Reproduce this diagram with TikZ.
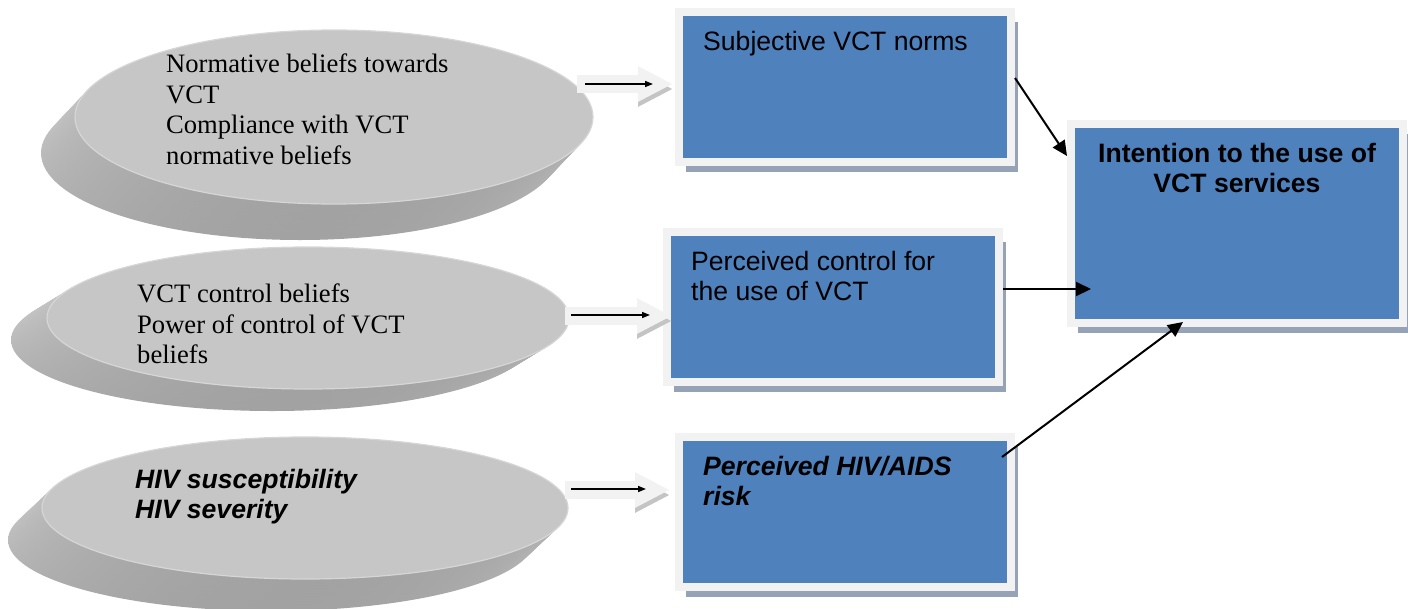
\documentclass[tikz,border=0pt]{standalone}
\usepackage{fontspec}
\setmainfont{Liberation Serif}
\setsansfont{Liberation Sans}
\usepackage{tikz}
\usetikzlibrary{arrows.meta,positioning,shapes.geometric,shadows,calc}

\definecolor{vctblue}{HTML}{4F81BD}
\definecolor{framegray}{HTML}{F2F2F2}
\definecolor{boxshade}{HTML}{96A3B6}
\definecolor{discface}{HTML}{C6C6C6}
\definecolor{discrim}{HTML}{D6D6D6}
\definecolor{sidelight}{HTML}{D4D4D4}
\definecolor{sidedark}{HTML}{A2A2A2}
\definecolor{arrowshade}{HTML}{C4C4C4}
\newcommand\vctfont{\fontsize{26.6}{30.5}\selectfont}

\begin{document}
\begin{tikzpicture}[x=1pt, y=-1pt,
  disc/.style={ellipse, fill=discface, draw=discrim, line width=1.2pt, inner sep=0pt},
  discside/.style={top color=sidelight, bottom color=sidedark},
  vbox/.style={rectangle, draw=framegray, line width=8pt, fill=vctblue, minimum width=332pt, minimum height=150pt, inner sep=0pt,
    drop shadow={shadow xshift=7pt, shadow yshift=-10pt, fill=boxshade, opacity=1}},
  beliefs/.style={font=\vctfont, align=left, inner sep=0pt, anchor=north west},
  labeltxt/.style={beliefs, font=\vctfont\sffamily},
  fat/.style={draw=framegray, line width=18pt, -{Triangle[length=35pt, width=33pt]},
    preaction={draw=arrowshade, transform canvas={yshift=-5pt}}},
  inarrow/.style={-{Triangle[length=8pt, width=6pt]}, line width=1.5pt},
  link/.style={-{Triangle[length=15pt, width=14pt]}, line width=2pt}
]
\useasboundingbox (0,0) rectangle (1408,608);

% belief discs, side first then face
\coordinate (c1) at (334,117);
\coordinate (c2) at (308,318);
\coordinate (c3) at (305,508);
\foreach \k in {20,19,...,1}
  \shade[discside] ($(c1)+\k/20*(-34,36)$) ellipse [x radius=259pt, y radius=87pt];
\node[disc, minimum width=518pt, minimum height=174pt] (d1) at (c1) {};
\foreach \k in {20,19,...,1}
  \shade[discside] ($(c2)+\k/20*(-36,22)$) ellipse [x radius=261pt, y radius=71pt];
\node[disc, minimum width=522pt, minimum height=142pt] (d2) at (c2) {};
\foreach \k in {20,19,...,1}
  \shade[discside] ($(c3)+\k/20*(-34,32)$) ellipse [x radius=263pt, y radius=71pt];
\node[disc, minimum width=526pt, minimum height=142pt] (d3) at (c3) {};

\node[beliefs] (t1) at (166,54) {Normative beliefs towards\\VCT\\Compliance with VCT\\normative beliefs};
\node[beliefs] (t2) at (137,284) {VCT control beliefs\\Power of control of VCT\\beliefs};
\node[labeltxt, font=\vctfont\sffamily\bfseries\itshape] (t3) at (135,469) {HIV susceptibility\\HIV severity};

% construct boxes
\node[vbox] (norms) at (845,87) {};
\node[vbox] (control) at (833,307) {};
\node[vbox] (risk) at (845,512) {};
\node[vbox, minimum height=199pt] (intent) at (1237,223.5) {};

\node[labeltxt] (normst) at (703,31) {Subjective VCT norms};
\node[labeltxt] (controlt) at (691,251) {Perceived control for\\the use of VCT};
\node[labeltxt, font=\vctfont\sffamily\bfseries\itshape] (riskt) at (703,456) {Perceived HIV/AIDS\\risk};
\node[labeltxt, anchor=north, align=center, font=\vctfont\sffamily\bfseries] (intentt) at (1237,143) {Intention to the use of\\VCT services};

% block arrows from discs to boxes
\coordinate (f1) at (577,84);
\coordinate (f2) at (565,316);
\coordinate (f3) at (565,490);
\draw[fat] (f1) -- ($(f1 -| norms.west)+(-2,0)$);
\draw[fat] (f2) -- ($(f2 -| control.west)+(9,0)$);
\draw[fat] (f3) -- ($(f3 -| risk.west)+(-5,0)$);
\draw[inarrow] ($(f1)+(8,0)$) -- ($(f1 -| norms.west)+(-22,0)$);
\draw[inarrow] ($(f2)+(6,-1)$) -- ($(f2 -| control.west)+(-13,-1)$);
\draw[inarrow] ($(f3)+(6,-1)$) -- ($(f3 -| risk.west)+(-29,-1)$);

% links into intention
\coordinate (e2) at ([yshift=18pt]control.east);
\draw[link] ([yshift=9pt]norms.east) -- ([yshift=-36pt]intent.north west);
\draw[link] (e2) -- ($(e2 -| intent.west)+(24,0)$);
\draw[link] ([shift={(-13pt,-24pt)}]risk.north east) -- ([shift={(-54pt,5pt)}]intent.south);
\end{tikzpicture}
\end{document}
